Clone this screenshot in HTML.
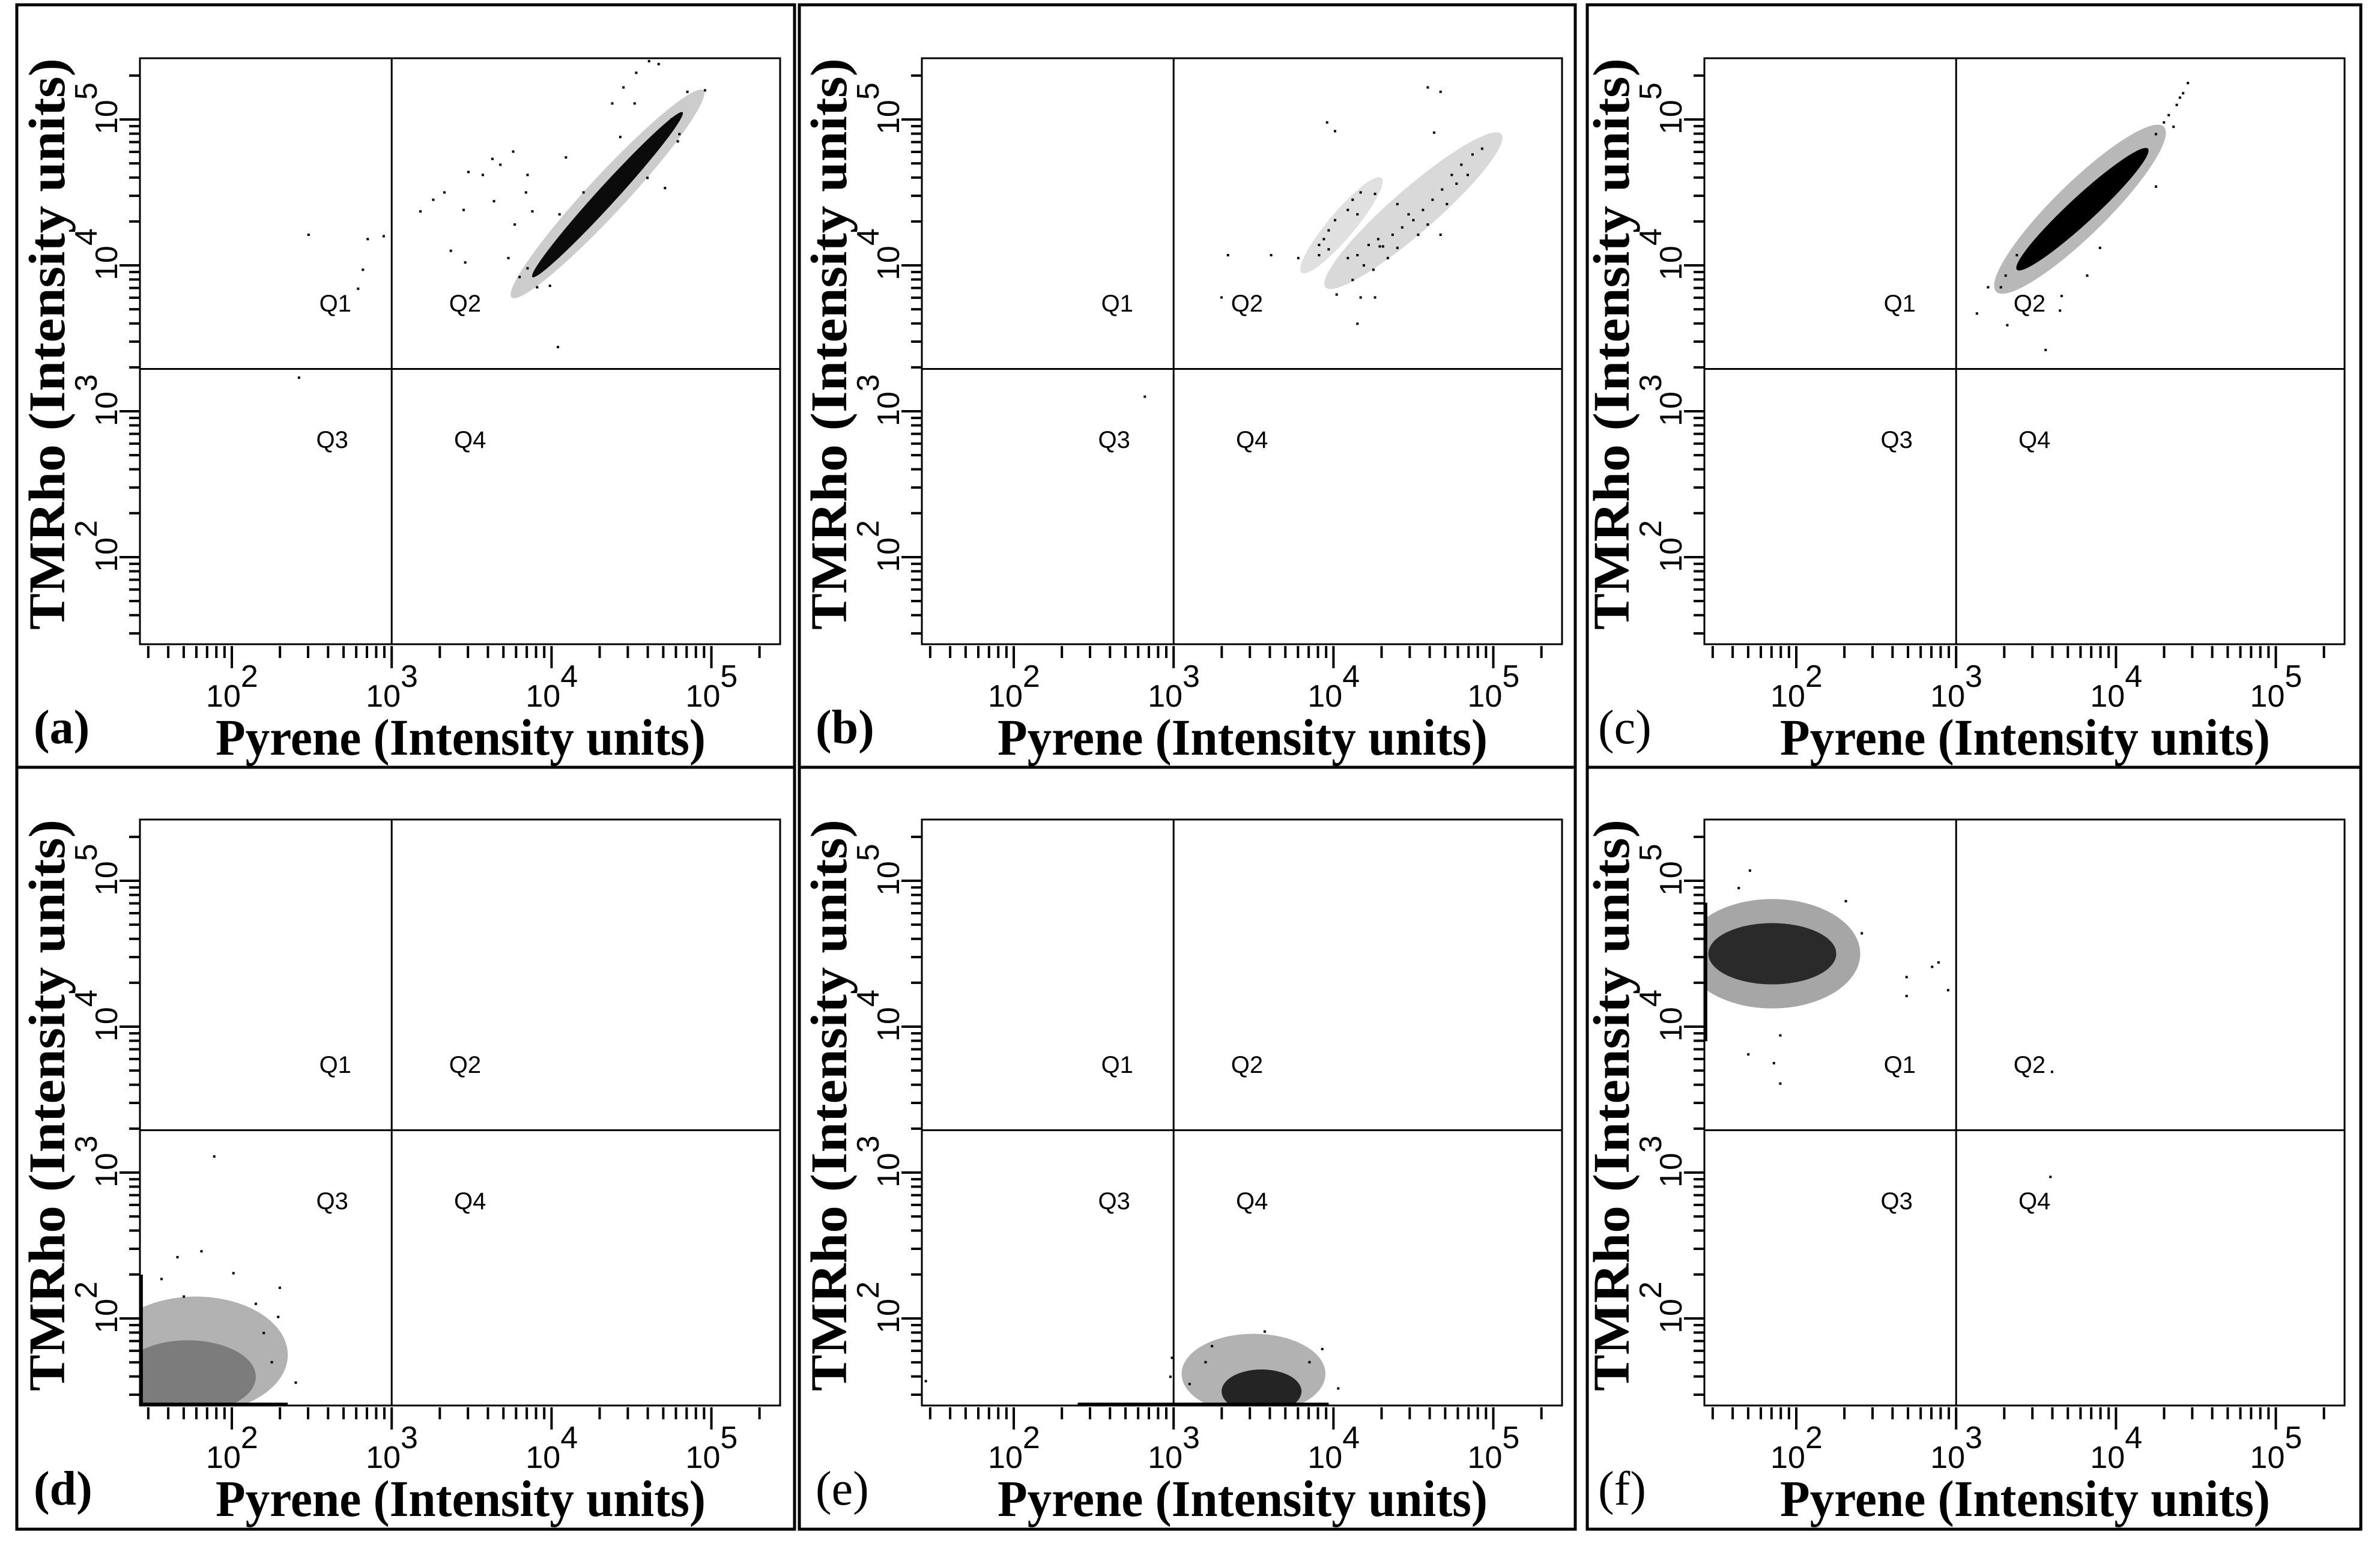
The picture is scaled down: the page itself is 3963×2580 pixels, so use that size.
<!DOCTYPE html>
<html><head><meta charset="utf-8"><style>
html,body{margin:0;padding:0;background:#fff;}
svg{display:block;}
.tl{font-family:"Liberation Sans",sans-serif;font-size:52px;fill:#000;}
.ql{font-family:"Liberation Sans",sans-serif;font-size:40px;fill:#000;}
.ti{font-family:"Liberation Serif",serif;font-size:86px;font-weight:bold;fill:#000;}
.pl{font-family:"Liberation Serif",serif;font-size:80px;fill:#000;}
</style></head><body>
<svg id="fig" xmlns="http://www.w3.org/2000/svg" width="3963" height="2580" viewBox="0 0 3963 2580"></svg>
<script>
// ---- data (log10 intensity) ----
const panelLetters = ['(a)','(b)','(c)','(d)','(e)','(f)'];
const panelBold = [true,true,false,true,false,false];
const quadrantXLog = 3.0;
const quadrantYLog = 3.29;
const majorExponents = [2,3,4,5];
const minorMultipliers = [2,3,4,5,6,7,8,9];
const quadNames = ['Q1','Q2','Q3','Q4'];
const quadLabelX = [2.647,3.459,2.628,3.49];
const quadLabelY = [3.683,3.683,2.749,2.749];
// clusters (ellipse along segment): [x1,y1,x2,y2,thicknessDecades,opacity]
const clustersA = [[3.75,3.78,4.95,5.2,0.26,0.2],[3.88,3.92,4.82,5.05,0.13,0.95]];
const clustersB = [[3.95,3.85,5.05,4.9,0.3,0.15],[3.8,3.95,4.3,4.6,0.18,0.12]];
const clustersC = [[3.25,3.82,4.3,4.95,0.36,0.28],[3.38,3.97,4.2,4.8,0.18,1.0]];
const clustersD = [[1.2,1.75,2.35,1.75,0.8,0.3],[1.3,1.6,2.15,1.6,0.5,0.3]];
const clustersE = [[3.05,1.62,3.95,1.62,0.55,0.3],[3.3,1.5,3.8,1.5,0.3,0.8]];
const clustersF = [[1.3,4.5,2.4,4.5,0.75,0.35],[1.45,4.5,2.25,4.5,0.42,0.75]];
// edge pile-ups: [x1,y1,x2,y2]
const pilesD = [[1.432,1.41,1.432,2.3],[1.43,1.41,2.35,1.41]];
const pilesE = [[3.0,1.41,3.97,1.41],[2.4,1.41,3.0,1.41]];
const pilesF = [[1.432,3.9,1.432,4.85]];
const pilesNone = [];
const pointsA = [[2.48,4.21],[2.85,4.18],[2.95,4.2],[2.82,3.97],[2.79,3.84],[2.42,3.23],[3.18,4.37],[3.26,4.45],[3.33,4.50],[3.45,4.38],[3.48,4.64],[3.57,4.62],[3.63,4.73],[3.68,4.69],[3.64,4.44],[3.76,4.78],[3.84,4.50],[3.85,4.62],[4.09,4.74],[3.37,4.10],[3.46,4.02],[3.73,4.05],[3.77,4.28],[3.91,3.85],[3.99,3.86],[4.04,3.44],[4.45,5.22],[4.53,5.32],[4.61,5.40],[4.67,5.38],[4.38,5.11],[4.52,5.11],[4.85,5.19],[4.96,5.20],[4.71,4.53],[4.79,4.85],[4.43,4.88],[3.88,4.37],[3.80,3.92],[3.85,3.98],[4.2,4.5],[4.05,4.35],[4.8,4.9],[4.75,5.0],[4.6,4.6]];
const pointsB = [[3.34,4.07],[3.61,4.07],[3.78,4.05],[3.96,4.98],[4.01,4.92],[4.59,5.22],[4.67,5.19],[4.63,4.91],[4.67,4.21],[4.15,3.60],[4.02,3.80],[4.17,3.78],[4.26,3.78],[2.82,3.10],[3.30,3.78],[4.26,4.49],[4.09,4.05],[4.15,4.07],[4.22,4.14],[4.28,4.18],[4.31,4.13],[4.37,4.21],[4.43,4.26],[4.50,4.31],[4.56,4.38],[4.62,4.45],[4.68,4.52],[4.74,4.62],[4.80,4.69],[4.87,4.76],[4.93,4.80],[4.19,4.0],[4.25,3.97],[4.12,3.90],[4.34,4.05],[4.40,4.12],[4.53,4.21],[4.59,4.28],[4.47,4.35],[4.40,4.42],[4.71,4.42],[4.77,4.56],[4.84,4.62],[4.29,4.13],[3.91,4.07],[3.94,4.18],[3.97,4.24],[4.01,4.31],[4.09,4.38],[4.12,4.45],[4.17,4.50],[3.91,4.14],[3.97,4.11],[4.15,4.35]];
const pointsC = [[3.13,3.67],[3.32,3.59],[3.56,3.42],[3.20,3.85],[3.28,3.85],[3.65,3.69],[4.25,4.54],[4.36,4.95],[3.82,3.93],[3.90,4.12],[3.66,3.79],[3.38,4.07],[3.31,3.93],[4.25,4.9],[4.3,4.98],[4.33,5.03],[4.38,5.1],[4.42,5.18],[4.45,5.25],[4.40,5.15]];
const pointsD = [[1.89,3.11],[1.81,2.46],[1.66,2.42],[2.30,2.21],[2.40,1.56],[2.01,2.31],[1.56,2.27],[2.29,2.01],[2.2,1.9],[2.15,2.1],[1.7,2.15],[2.25,1.7]];
const pointsE = [[2.99,1.73],[2.98,1.6],[4.03,1.52],[3.93,1.79],[3.57,1.91],[3.24,1.81],[1.45,1.57],[3.85,1.7],[3.2,1.7],[3.1,1.55]];
const pointsF = [[1.71,5.07],[1.70,3.81],[1.86,3.75],[1.90,3.61],[1.90,3.94],[2.69,4.34],[2.69,4.21],[2.85,4.41],[2.89,4.44],[2.95,4.25],[3.59,2.97],[3.60,3.69],[1.64,4.95],[2.31,4.86],[2.41,4.64]];
const panelClusters = [clustersA,clustersB,clustersC,clustersD,clustersE,clustersF];
const panelPiles = [pilesNone,pilesNone,pilesNone,pilesD,pilesE,pilesF];
const panelPoints = [pointsA,pointsB,pointsC,pointsD,pointsE,pointsF];

// ---- layout ----
const NS='http://www.w3.org/2000/svg';
const svg=document.getElementById('fig');
const colL=[233,1535,2838], rowT=[97,1365], W=1066, H=976;
const xDom=[1.425,5.43], yDom=[1.403,5.42];
const frameX=[[28,1323],[1331,2623],[2643,3931]], frameY=[[8,1278],[1278,2547]];
function mk(tag,attrs,parent){const e=document.createElementNS(NS,tag);for(const k in attrs)e.setAttribute(k,attrs[k]);(parent||svg).appendChild(e);return e;}

for(let p=0;p<6;p++){
  const col=p%3,row=Math.floor(p/3);
  const L=colL[col],T=rowT[row],B=T+H,R=L+W;
  const sx=v=>L+(v-xDom[0])/(xDom[1]-xDom[0])*W;
  const sy=v=>B-(v-yDom[0])/(yDom[1]-yDom[0])*H;
  const decPx=H/(yDom[1]-yDom[0]);
  const g=mk('g',{});
  
  
  const fr=mk('rect',{x:frameX[col][0],y:frameY[row][0],width:frameX[col][1]-frameX[col][0],height:frameY[row][1]-frameY[row][0],fill:'none',stroke:'#000','stroke-width':5},g);
  
  
  const cp=mk('clipPath',{id:'clip'+p},g);
  mk('rect',{x:L,y:T,width:W,height:H},cp);
  const cg=mk('g',{'clip-path':'url(#clip'+p+')'},g);
  panelClusters[p].forEach(c=>{
    const x1=sx(c[0]),y1=sy(c[1]),x2=sx(c[2]),y2=sy(c[3]);
    const cx=(x1+x2)/2,cy=(y1+y2)/2,len=Math.hypot(x2-x1,y2-y1);
    const ang=Math.atan2(y2-y1,x2-x1)*180/Math.PI;
    const el=mk('ellipse',{cx:cx,cy:cy,rx:len/2,ry:c[4]*decPx/2,fill:'#000','fill-opacity':c[5],transform:'rotate('+ang+' '+cx+' '+cy+')'},cg);
    
    
  });
  panelPiles[p].forEach(c=>{
    const ln=mk('line',{x1:sx(c[0]),y1:sy(c[1]),x2:sx(c[2]),y2:sy(c[3]),stroke:'#000','stroke-width':6},cg);
    
    
  });
  panelPoints[p].forEach(pt=>{
    const r=mk('rect',{x:sx(pt[0])-2,y:sy(pt[1])-2,width:4,height:4,fill:'#000'},cg);
    
    
  });
  const bx=mk('rect',{x:L,y:T,width:W,height:H,fill:'none',stroke:'#000','stroke-width':3},g);
  
  
  const qv=mk('line',{x1:sx(quadrantXLog),y1:T,x2:sx(quadrantXLog),y2:B,stroke:'#000','stroke-width':3},g);
  
  
  const qh=mk('line',{x1:L,y1:sy(quadrantYLog),x2:R,y2:sy(quadrantYLog),stroke:'#000','stroke-width':3},g);
  
  
  for(let e=1;e<=5;e++){
    minorMultipliers.concat([1]).forEach(m=>{
      const lv=e+Math.log10(m);
      const isMaj=(m===1);
      if(lv>=xDom[0]&&lv<=xDom[1]){const t=mk('line',{x1:sx(lv),y1:B+3,x2:sx(lv),y2:isMaj?B+40:B+23,stroke:'#000','stroke-width':4},g);
        
        }
      if(lv>=yDom[0]&&lv<=yDom[1]){const t=mk('line',{x1:isMaj?L-34:L-18,y1:sy(lv),x2:L,y2:sy(lv),stroke:'#000','stroke-width':4},g);
        
        }
    });
  }
  majorExponents.forEach(ex=>{
    const tx=mk('text',{class:'tl',x:sx(ex)-43,y:B+104},g);
    
    
    tx.appendChild(document.createTextNode('10'));
    const s1=mk('tspan',{dy:-33},tx);s1.textContent=String(ex);
    const ty=mk('text',{class:'tl',transform:'translate('+(L-38)+','+(sy(ex)+25)+') rotate(-90)'},g);
    
    
    ty.appendChild(document.createTextNode('10'));
    const s2=mk('tspan',{dy:-34},ty);s2.textContent=String(ex);
  });
  quadNames.forEach((q,i)=>{
    const t=mk('text',{class:'ql',x:sx(quadLabelX[i]),y:sy(quadLabelY[i]),'text-anchor':'middle'},g);
    
    
    t.textContent=q;
  });
  const xt=mk('text',{class:'ti',x:L+126,y:B+184,textLength:816,lengthAdjust:'spacingAndGlyphs'},g);
  
  
  xt.textContent='Pyrene (Intensity units)';
  const yt=mk('text',{class:'ti',transform:'translate('+(L-126)+','+(B-24)+') rotate(-90)',textLength:952,lengthAdjust:'spacingAndGlyphs'},g);
  
  
  yt.textContent='TMRho (Intensity units)';
  const pl=mk('text',{class:'pl',x:L-177,y:B+165,'font-weight':panelBold[p]?'bold':'normal'},g);
  
  
  pl.textContent=panelLetters[p];
}
</script>
</body></html>
